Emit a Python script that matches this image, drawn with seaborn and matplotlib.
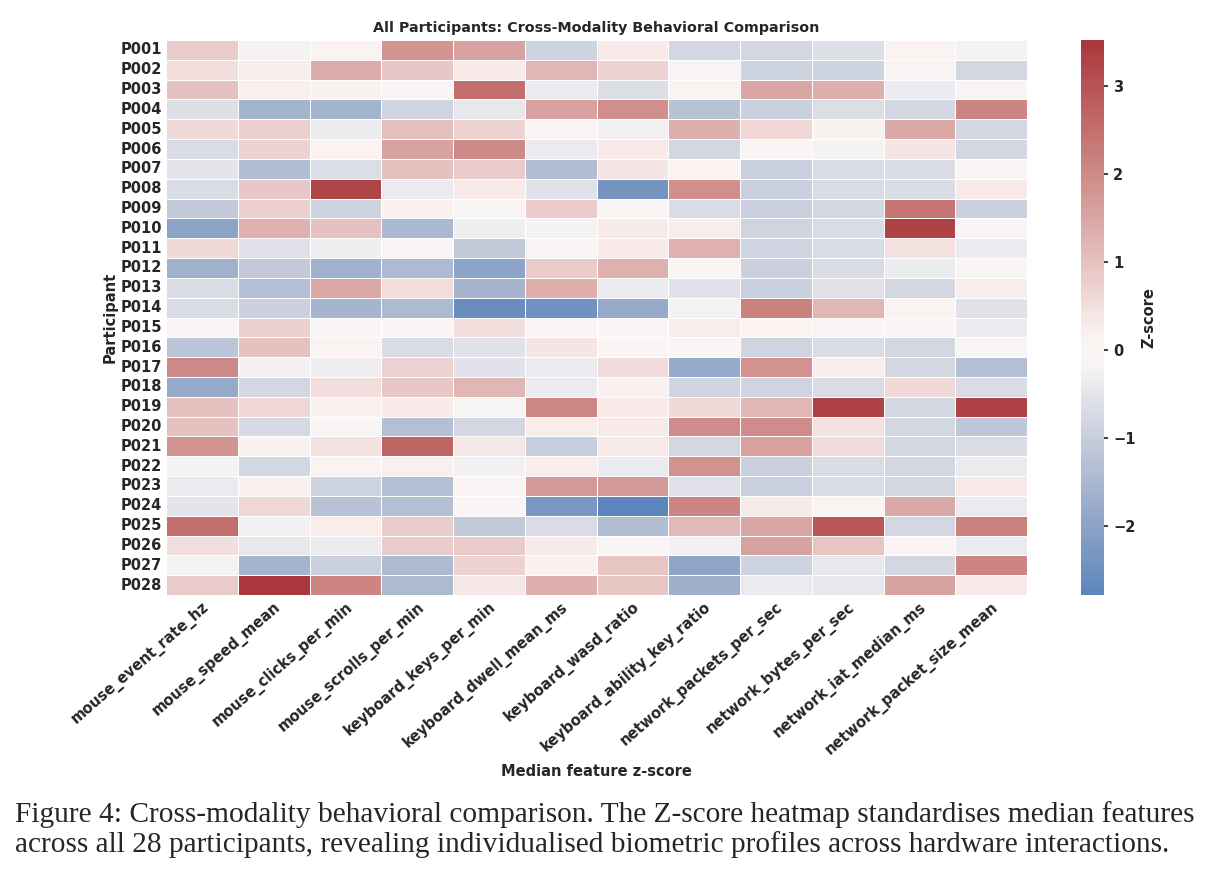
import matplotlib
matplotlib.use("Agg")
import matplotlib.pyplot as plt
import seaborn as sns
import pandas as pd

participants = ["P%03d" % i for i in range(1, 29)]

features = [
    "mouse_event_rate_hz", "mouse_speed_mean", "mouse_clicks_per_min",
    "mouse_scrolls_per_min", "keyboard_keys_per_min", "keyboard_dwell_mean_ms",
    "keyboard_wasd_ratio", "keyboard_ability_key_ratio", "network_packets_per_sec",
    "network_bytes_per_sec", "network_iat_median_ms", "network_packet_size_mean",
]

# median feature z-scores, one row per participant
z_scores = [
    [0.80, -0.20, 0.10, 1.80, 1.60, -0.90, 0.30, -0.80, -0.80, -0.60, 0.10, -0.20],
    [0.50, 0.25, 1.40, 0.90, 0.30, 1.20, 0.70, -0.10, -0.90, -0.90, 0.00, -0.80],
    [1.00, 0.20, 0.15, -0.05, 2.50, -0.40, -0.65, 0.10, 1.50, 1.35, -0.35, -0.10],
    [-0.60, -1.60, -1.60, -0.85, -0.45, 1.60, 1.90, -1.25, -0.95, -0.65, -0.80, 2.10],
    [0.60, 0.75, -0.35, 1.05, 0.70, 0.10, -0.25, 1.35, 0.65, 0.15, 1.45, -0.80],
    [-0.70, 0.70, 0.10, 1.60, 2.00, -0.40, 0.30, -0.80, 0.05, -0.20, 0.40, -0.80],
    [-0.50, -1.40, -0.65, 1.00, 0.85, -1.40, 0.40, 0.10, -0.95, -0.70, -0.70, -0.10],
    [-0.70, 0.90, 3.25, -0.40, 0.30, -0.55, -2.40, 1.90, -0.95, -0.70, -0.70, 0.30],
    [-1.10, 0.75, -0.90, 0.15, -0.10, 0.80, -0.05, -0.70, -0.95, -0.80, 2.40, -0.95],
    [-2.00, 1.30, 1.00, -1.50, -0.30, -0.20, 0.30, 0.25, -0.85, -0.70, 3.30, 0.05],
    [0.60, -0.55, -0.30, -0.05, -1.10, -0.10, 0.30, 1.30, -0.85, -0.70, 0.45, -0.35],
    [-1.65, -1.10, -1.65, -1.45, -2.00, 0.85, 1.30, 0.00, -0.95, -0.70, -0.35, 0.00],
    [-0.70, -1.35, 1.45, 0.50, -1.55, 1.35, -0.35, -0.55, -0.95, -0.55, -0.80, 0.25],
    [-0.70, -0.95, -1.55, -1.45, -2.55, -2.45, -1.85, -0.20, 2.15, 1.20, 0.10, -0.55],
    [0.05, 0.75, 0.00, -0.02, 0.50, 0.00, 0.05, 0.25, 0.10, 0.00, -0.05, -0.35],
    [-1.20, 1.00, 0.10, -0.70, -0.55, 0.40, 0.00, 0.05, -0.85, -0.70, -0.80, -0.10],
    [2.00, -0.25, -0.30, 0.70, -0.55, -0.35, 0.55, -1.85, 1.85, 0.25, -0.80, -1.35],
    [-1.85, -0.80, 0.50, 0.90, 1.20, -0.35, 0.15, -0.85, -0.85, -0.70, 0.60, -0.70],
    [1.00, 0.65, 0.15, 0.30, -0.15, 2.05, 0.30, 0.60, 1.20, 3.30, -0.80, 3.30],
    [1.00, -0.75, -0.05, -1.35, -0.80, 0.25, 0.30, 1.95, 1.95, 0.45, -0.80, -1.15],
    [1.80, 0.15, 0.45, 2.70, 0.35, -1.00, 0.30, -0.80, 1.55, 0.55, -0.80, -0.70],
    [-0.20, -0.80, 0.10, 0.20, -0.25, 0.25, -0.40, 1.85, -0.95, -0.70, -0.80, -0.40],
    [-0.40, 0.15, -0.90, -1.35, 0.05, 1.70, 1.70, -0.55, -0.95, -0.70, -0.80, 0.30],
    [-0.50, 0.65, -1.25, -1.35, 0.05, -2.30, -2.78, 2.10, 0.30, 0.10, 1.45, -0.40],
    [2.50, -0.25, 0.25, 0.85, -1.10, -0.70, -1.40, 1.15, 1.50, 2.95, -0.80, 2.15],
    [0.50, -0.45, -0.35, 0.85, 0.85, 0.30, -0.05, -0.25, 1.60, 0.95, 0.05, -0.40],
    [-0.20, -1.60, -0.95, -1.45, 0.70, 0.15, 0.95, -1.95, -0.90, -0.45, -0.80, 2.10],
    [0.85, 3.52, 2.10, -1.45, 0.35, 1.35, 0.95, -1.70, -0.40, -0.45, 1.60, 0.30],
]

caption_lines = [
    "Figure 4: Cross-modality behavioral comparison. The Z-score heatmap standardises median features",
    "across all 28 participants, revealing individualised biometric profiles across hardware interactions.",
]

df = pd.DataFrame(z_scores, index=participants, columns=features)

sns.set_theme(style="white")
plt.rcParams["font.family"] = ["DejaVu Sans"]

fig = plt.figure(figsize=(12.18, 8.76), dpi=100)
ax = fig.add_axes([166 / 1218, 1 - 595 / 876, (1027 - 166) / 1218, (595 - 40) / 876])
cax = fig.add_axes([1081 / 1218, 1 - 595 / 876, 23 / 1218, (595 - 40) / 876])

sns.heatmap(
    df, ax=ax, cbar_ax=cax, cmap="vlag", center=0,
    linewidths=0.5, linecolor="white",
    cbar_kws={"label": "Z-score"},
)

ax.set_title("All Participants: Cross-Modality Behavioral Comparison",
             fontsize=10.3, fontweight="bold", pad=6)
ax.set_xlabel("Median feature z-score", fontsize=10.5, fontweight="bold")
ax.set_ylabel("Participant", fontsize=10.5, fontweight="bold", labelpad=2)
ax.set_yticklabels(participants, rotation=0, fontsize=10.5, fontweight="bold")
ax.set_xticklabels(features, rotation=41, ha="right", rotation_mode="anchor",
                   fontsize=10.5, fontweight="bold")
ax.tick_params(axis="both", length=0, pad=3)

cax.tick_params(labelsize=10.5, length=3)
for t in cax.get_yticklabels():
    t.set_fontweight("bold")
cax.yaxis.label.set_fontweight("bold")
cax.yaxis.label.set_fontsize(10.5)

fig.text(15 / 1218, 1 - 822 / 876, caption_lines[0], fontsize=21.2,
         family="Liberation Serif", va="baseline", ha="left")
fig.text(15 / 1218, 1 - 852 / 876, caption_lines[1], fontsize=21.2,
         family="Liberation Serif", va="baseline", ha="left")

fig.savefig("out.png", dpi=100, facecolor="white")
